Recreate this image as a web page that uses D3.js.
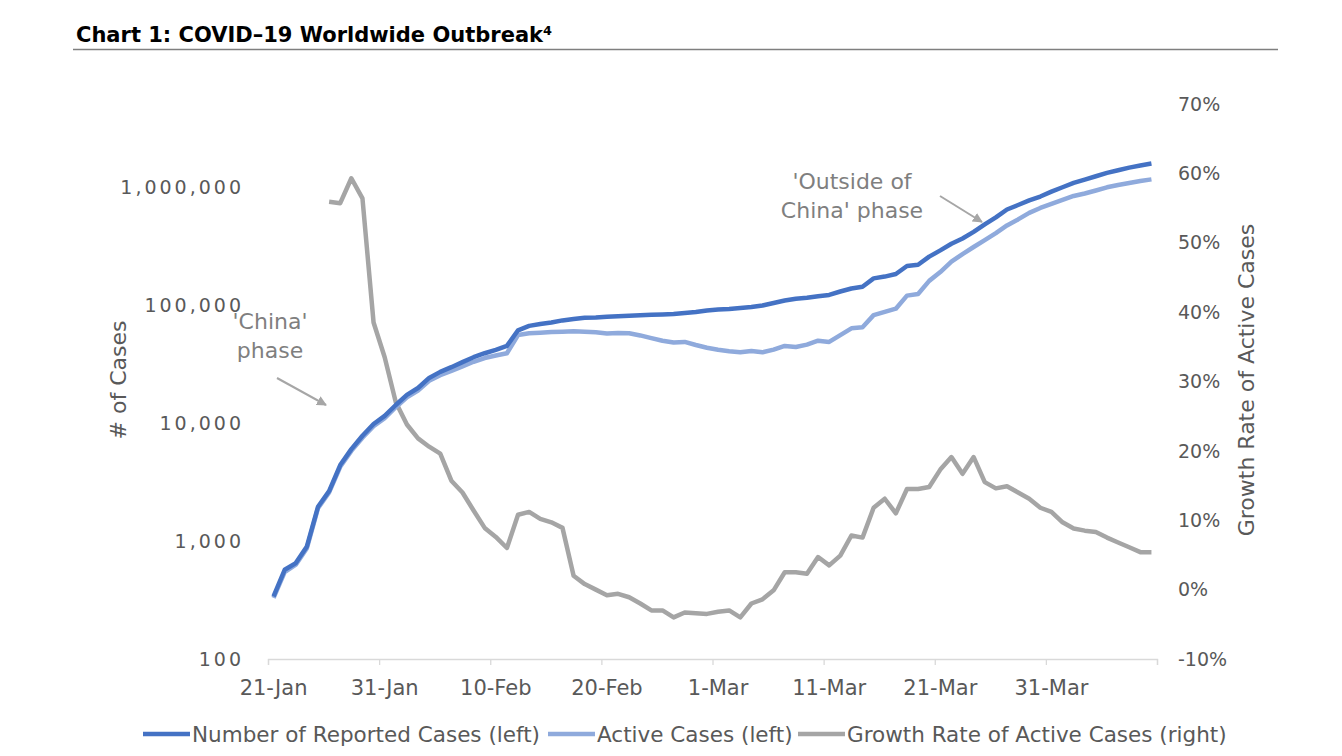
<!DOCTYPE html>
<html>
<head>
<meta charset="utf-8">
<script src="https://cdn.jsdelivr.net/npm/d3@7"></script>
<style>
  body { margin: 0; background: #fff; }
  svg { display: block; font-family: "DejaVu Sans", sans-serif; }
  .axis-label { fill: #595959; font-size: 19px; }
  .note { fill: #7f7f7f; font-size: 21px; }
</style>
</head>
<body>
<svg id="svg"></svg>
<script>
// Chart data, one value per day from 21-Jan
const startDay = "2020-01-21";
const dayCount = 80;

// Number of reported cases (left axis, log)
const reportedCases = [
  340, 570, 650, 900, 1950, 2650, 4400, 6000, 7800, 9800,
  11500, 14200, 17300, 19800, 24100, 27100, 29700, 32800, 36100, 39000,
  41700, 45000, 61000, 66500, 69000, 71000, 74000, 76000, 77800, 78400,
  79500, 80200, 81000, 81900, 82600, 83100, 84000, 85600, 87300, 89800,
  91600, 92500, 94400, 96200, 99100, 104000, 109000, 113000, 115000, 118600,
  121600, 130000, 138000, 142800, 168000, 174000, 183000, 214000, 219000, 257000,
  290000, 330000, 366000, 416000, 481000, 552000, 644000, 703000, 769000, 830000,
  912000, 994000, 1081000, 1156000, 1233000, 1315000, 1387000, 1459000, 1520000, 1580000
];

// Active cases (left axis, log)
const activeCases = [
  330, 545, 630, 870, 1900, 2580, 4250, 5800, 7500, 9400,
  11000, 13600, 16500, 18800, 22800, 25400, 27600, 30200, 33000, 35500,
  37300, 39000, 55700, 57600, 58200, 59000, 59400, 59800, 59400, 58600,
  57300, 58000, 57600, 55200, 52300, 49800, 48000, 48600, 45800, 43400,
  41800, 40600, 39700, 40800, 39700, 41800, 45000, 44000, 46100, 49800,
  48600, 55500, 63400, 64800, 82000, 87400, 93000, 120000, 124000, 160000,
  190000, 233000, 270000, 310000, 355000, 407000, 472000, 531000, 603000, 664000,
  718000, 776000, 839000, 880000, 933000, 993000, 1040000, 1081000, 1123000, 1160000
];

// Growth rate of active cases (right axis), starts 26-Jan
const growthRate = [
  null, null, null, null, null, 0.559, 0.557, 0.593, 0.564, 0.385,
  0.335, 0.27, 0.238, 0.218, 0.206, 0.196, 0.157, 0.14, 0.114, 0.089,
  0.076, 0.06, 0.108, 0.112, 0.102, 0.097, 0.089, 0.02, 0.008, 0.0,
  -0.008, -0.006, -0.011, -0.02, -0.03, -0.03, -0.04, -0.033, -0.034, -0.035,
  -0.032, -0.03, -0.04, -0.02, -0.014, -0.001, 0.025, 0.025, 0.023, 0.047,
  0.035, 0.049, 0.078, 0.075, 0.118, 0.131, 0.11, 0.145, 0.145, 0.148,
  0.173, 0.191, 0.167, 0.191, 0.155, 0.146, 0.149, 0.14, 0.131, 0.118,
  0.112, 0.097, 0.088, 0.085, 0.083, 0.075, 0.068, 0.061, 0.054, 0.054
];

const leftTicks = [100, 1000, 10000, 100000, 1000000];
const rightTicks = [-0.1, 0, 0.1, 0.2, 0.3, 0.4, 0.5, 0.6, 0.7];
const xLabelEvery = 10;

const seriesNames = [
  "Number of Reported Cases (left)",
  "Active Cases (left)",
  "Growth Rate of Active Cases (right)"
];
const seriesColors = ["#4472C4", "#8FAADC", "#A5A5A5"];

const width = 1342, height = 756;
const plot = { left: 268, right: 1157, top: 104, bottom: 659 };

const svg = d3.select("#svg").attr("width", width).attr("height", height);

// Title and rule
svg.append("text")
    .attr("x", 76).attr("y", 42)
    .style("font-size", "21px").style("font-weight", "bold").attr("fill", "#000")
    .text("Chart 1: COVID\u201319 Worldwide Outbreak\u2074");
svg.append("line")
    .attr("x1", 73).attr("x2", 1278).attr("y1", 49.5).attr("y2", 49.5)
    .attr("stroke", "#7f7f7f").attr("stroke-width", 1.5);

// Scales
const parse = d3.utcParse("%Y-%m-%d");
const t0 = parse(startDay);
const tEnd = d3.utcDay.offset(t0, dayCount);
const days = d3.utcDay.range(t0, tEnd);
const x = d3.scaleUtc().domain([t0, tEnd]).range([plot.left, plot.right]);
const xMid = d => x(d3.utcHour.offset(d, 12));

const yLeft = d3.scaleLog().domain([100, Math.pow(10, 6.703)]).range([plot.bottom, plot.top]);
const yRight = d3.scaleLinear().domain([-0.1, 0.7]).range([plot.bottom, plot.top]);

// X axis: ticks at day boundaries, labels at day centres
const tickDays = days.filter((d, i) => i % xLabelEvery === 0).concat([tEnd]);
const xTicks = svg.append("g")
    .attr("transform", `translate(0,${plot.bottom})`)
    .call(d3.axisBottom(x).tickValues(tickDays).tickSize(6).tickFormat(""));
xTicks.select(".domain").attr("stroke", "#d9d9d9").attr("stroke-width", 1.3);
xTicks.selectAll(".tick line").attr("stroke", "#d9d9d9").attr("stroke-width", 1.3);

const labelDays = days.filter((d, i) => i % xLabelEvery === 0);
svg.append("g")
    .selectAll("text")
    .data(labelDays)
    .join("text")
    .attr("class", "axis-label")
    .attr("x", d => xMid(d))
    .attr("y", plot.bottom + 36)
    .attr("text-anchor", "middle")
    .style("font-size", "21px")
    .text(d3.utcFormat("%-d-%b"));

// Left axis labels (wide digits like the original font)
svg.append("g")
    .selectAll("text")
    .data(leftTicks)
    .join("text")
    .attr("class", "axis-label")
    .attr("x", 244)
    .attr("y", d => yLeft(d))
    .attr("dy", "0.35em")
    .attr("text-anchor", "end")
    .style("letter-spacing", "3px")
    .text(d3.format(","));

// Right axis labels
const pct = d3.format(".0%");
svg.append("g")
    .selectAll("text")
    .data(rightTicks)
    .join("text")
    .attr("class", "axis-label")
    .attr("x", 1178)
    .attr("y", d => yRight(d))
    .attr("dy", "0.35em")
    .text(d => pct(d).replace("\u2212", "-"));

// Axis titles
svg.append("text")
    .attr("class", "axis-label")
    .attr("transform", `translate(126,380) rotate(-90)`)
    .attr("text-anchor", "middle")
    .style("font-size", "22px")
    .text("# of Cases");
svg.append("text")
    .attr("class", "axis-label")
    .attr("transform", `translate(1254,380) rotate(-90)`)
    .attr("text-anchor", "middle")
    .style("font-size", "22px")
    .text("Growth Rate of Active Cases");

// Lines
const leftLine = d3.line()
    .x((d, i) => xMid(days[i]))
    .y(d => yLeft(d));
const rightLine = d3.line()
    .defined(d => d !== null)
    .x((d, i) => xMid(days[i]))
    .y(d => yRight(d));

svg.append("path")
    .datum(growthRate)
    .attr("fill", "none").attr("stroke", seriesColors[2])
    .attr("stroke-width", 4.5).attr("stroke-linejoin", "round")
    .attr("d", rightLine);
svg.append("path")
    .datum(activeCases)
    .attr("fill", "none").attr("stroke", seriesColors[1])
    .attr("stroke-width", 4.5).attr("stroke-linejoin", "round")
    .attr("d", leftLine);
svg.append("path")
    .datum(reportedCases)
    .attr("fill", "none").attr("stroke", seriesColors[0])
    .attr("stroke-width", 4.5).attr("stroke-linejoin", "round")
    .attr("d", leftLine);

// Annotations
const defs = svg.append("defs");
defs.append("marker")
    .attr("id", "arrow")
    .attr("viewBox", "0 0 10 10")
    .attr("refX", 9).attr("refY", 5)
    .attr("markerWidth", 5).attr("markerHeight", 5)
    .attr("orient", "auto")
    .append("path")
    .attr("d", "M0,0 L10,5 L0,10 z")
    .attr("fill", "#a6a6a6");

const notes = [
  { lines: ["'China'", "phase"], x: 270, y: 329, arrow: [277, 378, 326, 405] },
  { lines: ["'Outside of", "China' phase"], x: 852, y: 189, arrow: [940, 196, 982, 222] }
];
notes.forEach(n => {
    const t = svg.append("text").attr("class", "note").attr("text-anchor", "middle")
        .style("font-size", "22px");
    n.lines.forEach((l, k) => {
        t.append("tspan").attr("x", n.x).attr("y", n.y + k * 29).text(l);
    });
    svg.append("line")
        .attr("x1", n.arrow[0]).attr("y1", n.arrow[1])
        .attr("x2", n.arrow[2]).attr("y2", n.arrow[3])
        .attr("stroke", "#a6a6a6").attr("stroke-width", 2)
        .attr("marker-end", "url(#arrow)");
});

// Legend
const legendX = [143, 548, 798];
const legend = svg.append("g");
seriesNames.forEach((name, i) => {
    legend.append("line")
        .attr("x1", legendX[i]).attr("x2", legendX[i] + 47)
        .attr("y1", 734).attr("y2", 734)
        .attr("stroke", seriesColors[i]).attr("stroke-width", 4.5);
    legend.append("text")
        .attr("class", "axis-label")
        .attr("x", legendX[i] + 49).attr("y", 734).attr("dy", "0.35em")
        .style("font-size", "21.5px")
        .text(name);
});
</script>
</body>
</html>
